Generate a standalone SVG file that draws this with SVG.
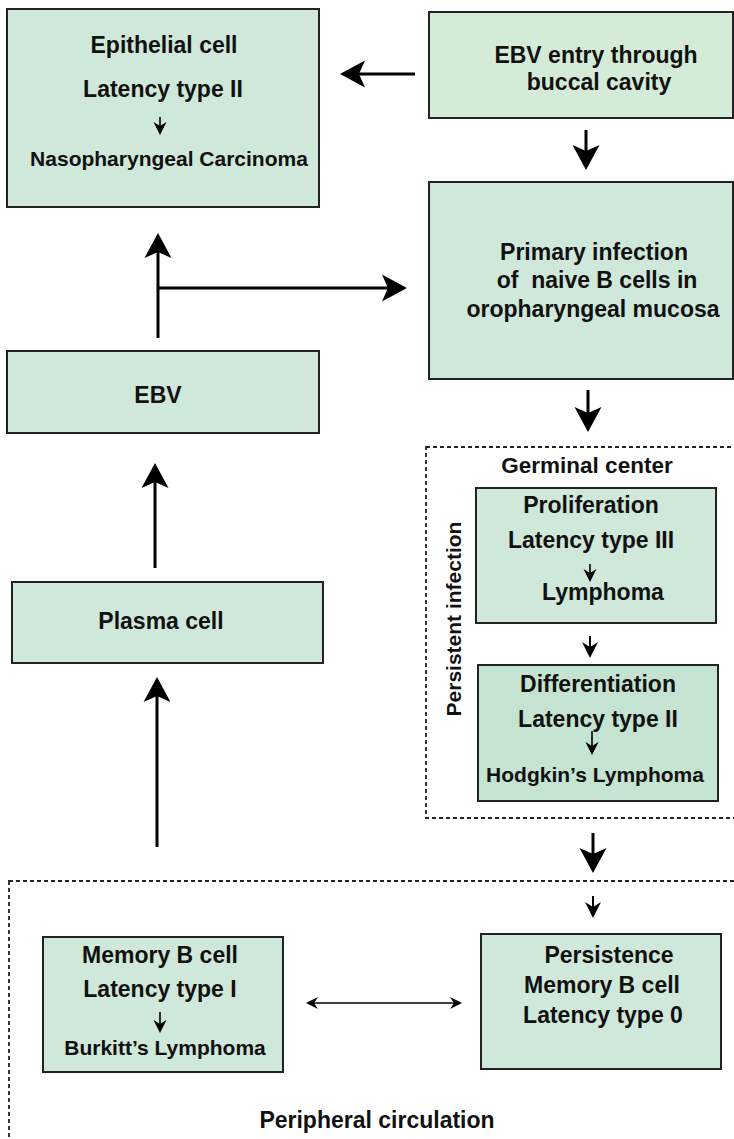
<svg xmlns="http://www.w3.org/2000/svg" width="734" height="1139" viewBox="0 0 734 1139">
<style>
.box{stroke:#222;stroke-width:2;}
.f1{fill:#d0e8da;}
.f2{fill:#d4ebd7;}
.f3{fill:#c4e3d0;}
.t{font-family:"Liberation Sans",Arial,sans-serif;font-weight:bold;fill:#111;text-anchor:middle;}
.s23{font-size:23px;}
.s21{font-size:21px;}
.s22{font-size:22.5px;}
.big{stroke:#000;stroke-width:3;fill:none;}
.med{stroke:#000;stroke-width:2;fill:none;}
.thin{stroke:#000;stroke-width:1.6;fill:none;}
.dash{fill:none;stroke:#222;stroke-width:1.8;stroke-dasharray:4 3;}
</style>
<defs>
<marker id="hb" markerUnits="userSpaceOnUse" viewBox="-27 -15 28 30" markerWidth="28" markerHeight="30" refX="-14" refY="0" orient="auto">
<path d="M0,0 L-25,-13.5 L-19,0 L-25,13.5 Z" fill="#000"/>
</marker>
<marker id="hm" markerUnits="userSpaceOnUse" viewBox="-17 -9 18 18" markerWidth="18" markerHeight="18" refX="-8" refY="0" orient="auto">
<path d="M0,0 L-16,-8 L-11,0 L-16,8 Z" fill="#000"/>
</marker>
<marker id="hs" markerUnits="userSpaceOnUse" viewBox="-14 -8 15 16" markerWidth="15" markerHeight="16" refX="-6" refY="0" orient="auto">
<path d="M0,0 L-13,-6.5 L-9,0 L-13,6.5 Z" fill="#000"/>
</marker>
<marker id="hss" markerUnits="userSpaceOnUse" viewBox="-14 -8 15 16" markerWidth="15" markerHeight="16" refX="-5" refY="0" orient="auto-start-reverse">
<path d="M0,0 L-12,-6 L-8,0 L-12,6 Z" fill="#000"/>
</marker>
</defs>

<g id="regions">
<rect id="germinal-center-region" class="dash" x="426" y="447" width="320" height="371"/>
<rect id="peripheral-region" class="dash" x="9" y="881" width="740" height="270"/>
</g>

<g id="connectors">
<line class="big" x1="415" y1="74" x2="354" y2="74" marker-end="url(#hb)"/>
<line class="big" x1="586" y1="130" x2="586" y2="156" marker-end="url(#hb)"/>
<line class="big" x1="158" y1="338" x2="158" y2="247" marker-end="url(#hb)"/>
<line class="big" x1="158" y1="288" x2="393" y2="288" marker-end="url(#hb)"/>
<line class="big" x1="588" y1="390" x2="588" y2="418" marker-end="url(#hb)"/>
<line class="med" x1="590" y1="636" x2="590" y2="650" marker-end="url(#hm)"/>
<line class="big" x1="155" y1="568" x2="155" y2="477" marker-end="url(#hb)"/>
<line class="big" x1="157" y1="847" x2="157" y2="691" marker-end="url(#hb)"/>
<line class="big" x1="593" y1="833" x2="593" y2="859" marker-end="url(#hb)"/>
<line class="med" x1="593" y1="896" x2="593" y2="910" marker-end="url(#hm)"/>
<line class="thin" x1="311" y1="1003" x2="457" y2="1003" marker-start="url(#hss)" marker-end="url(#hss)"/>
</g>

<g id="epithelial-cell">
<rect class="box f1" x="7" y="9" width="312" height="198"/>
<text class="t s23" x="164" y="53">Epithelial cell</text>
<text class="t s23" x="163" y="97">Latency type II</text>
<line class="thin" x1="160" y1="117" x2="160" y2="129" marker-end="url(#hs)"/>
<text class="t s21" x="169" y="166">Nasopharyngeal Carcinoma</text>
</g>

<g id="ebv-entry">
<rect class="box f2" x="429" y="12" width="304" height="106"/>
<text class="t s23" x="596" y="63">EBV entry through</text>
<text class="t s23" x="599" y="90">buccal cavity</text>
</g>

<g id="primary-infection">
<rect class="box f1" x="429" y="182" width="304" height="197"/>
<text class="t s23" x="594" y="260">Primary infection</text>
<text class="t s23" x="597" y="288" style="white-space:pre">of  naive B cells in</text>
<text class="t s23" x="593" y="317">oropharyngeal mucosa</text>
</g>

<g id="ebv">
<rect class="box f1" x="7" y="351" width="312" height="82"/>
<text class="t s23" x="158" y="403">EBV</text>
</g>

<g id="plasma-cell">
<rect class="box f1" x="12" y="582" width="311" height="81"/>
<text class="t s23" x="161" y="629">Plasma cell</text>
</g>

<g id="germinal-center-label">
<text class="t s22" x="587" y="473">Germinal center</text>
<text class="t s21" transform="translate(461,619) rotate(-90)" x="0" y="0">Persistent infection</text>
</g>

<g id="proliferation">
<rect class="box f1" x="476" y="488" width="240" height="135"/>
<text class="t s23" x="591" y="513">Proliferation</text>
<text class="t s23" x="591" y="548">Latency type III</text>
<line class="thin" x1="590" y1="564" x2="590" y2="576" marker-end="url(#hs)"/>
<text class="t s23" x="603" y="600">Lymphoma</text>
</g>

<g id="differentiation">
<rect class="box f3" x="478" y="665" width="240" height="136"/>
<text class="t s23" x="598" y="692">Differentiation</text>
<text class="t s23" x="598" y="727">Latency type II</text>
<line class="thin" x1="592" y1="731" x2="592" y2="749" marker-end="url(#hs)"/>
<text class="t s21" x="595" y="782">Hodgkin’s Lymphoma</text>
</g>

<g id="memory-b-cell">
<rect class="box f1" x="43" y="937" width="240" height="135"/>
<text class="t s23" x="160" y="963">Memory B cell</text>
<text class="t s23" x="160" y="997">Latency type I</text>
<line class="thin" x1="160" y1="1012" x2="160" y2="1027" marker-end="url(#hs)"/>
<text class="t s21" x="165" y="1055">Burkitt’s Lymphoma</text>
</g>

<g id="persistence">
<rect class="box f1" x="481" y="934" width="240" height="135"/>
<text class="t s23" x="609" y="963">Persistence</text>
<text class="t s23" x="602" y="993">Memory B cell</text>
<text class="t s23" x="603" y="1023">Latency type 0</text>
</g>

<g id="peripheral-label">
<text class="t s23" x="377" y="1128">Peripheral circulation</text>
</g>
</svg>
